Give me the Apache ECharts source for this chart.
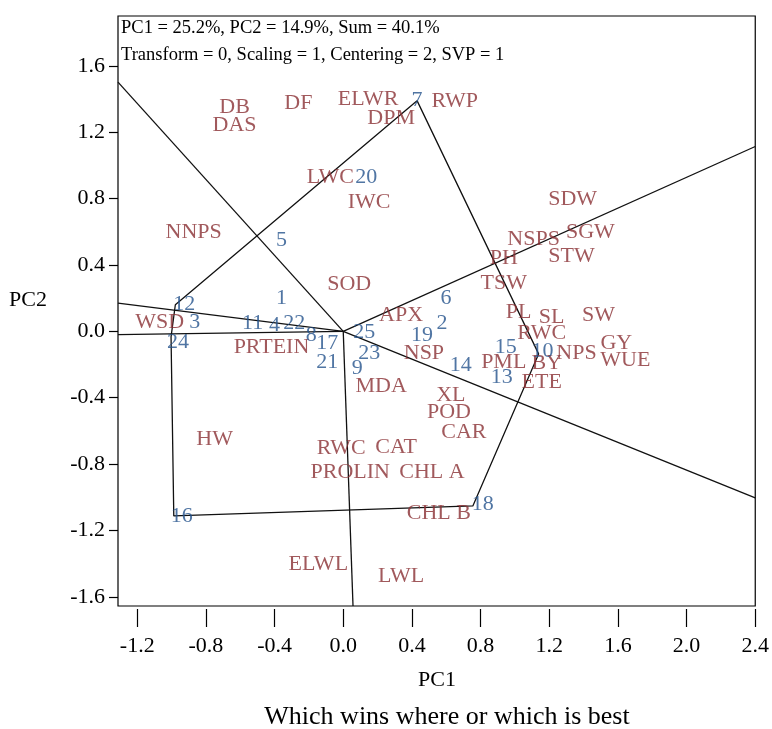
<!DOCTYPE html>
<html>
<head>
<meta charset="utf-8">
<script src="https://cdn.jsdelivr.net/npm/echarts@6/dist/echarts.min.js"></script>
<style>
html, body { margin: 0; padding: 0; background: #fff; }
#main { width: 772px; height: 729px; }
</style>
</head>
<body>
<div id="main"></div>
<script>
// genotype scores (blue numbers)
const genotypes = ['1','2','3','4','5','6','7','8','9','10','11','12','13','14','15','16','17','18','19','20','21','22','23','24','25'];
const genoPC1 = [-0.360, 0.575, -0.865, -0.401, -0.360, 0.598, 0.430, -0.186, 0.081, 1.138, -0.528, -0.978, 0.923, 0.685, 0.947, -0.987, -0.093, 0.755, 0.459, 0.134, -0.093, -0.285, 0.151, -1.003, 0.122];
const genoPC2 = [0.202, 0.051, 0.057, 0.039, 0.546, 0.202, 1.390, -0.021, -0.220, -0.136, 0.051, 0.160, -0.274, -0.202, -0.093, -1.112, -0.069, -1.052, -0.021, 0.931, -0.184, 0.051, -0.130, -0.033, -0.003];

// trait scores (red labels)
const traits = ['DB','DAS','DF','ELWR','DPM','RWP','LWC','IWC','NNPS','SOD','APX','WSD','PRTEIN','NSP','MDA','XL','POD','CAR','HW','RWC','CAT','PROLIN','CHL A','CHL B','ELWL','LWL','SDW','NSPS','SGW','STW','PH','TSW','PL','SL','SW','RWC','NPS','GY','WUE','PML','BY','ETE'];
const traitPC1 = [-0.633, -0.633, -0.261, 0.145, 0.279, 0.650, -0.075, 0.151, -0.871, 0.035, 0.337, -1.069, -0.418, 0.470, 0.221, 0.627, 0.616, 0.703, -0.749, -0.012, 0.308, 0.041, 0.517, 0.557, -0.145, 0.337, 1.336, 1.109, 1.440, 1.330, 0.935, 0.935, 1.022, 1.214, 1.487, 1.156, 1.359, 1.591, 1.643, 0.935, 1.185, 1.156];
const traitPC2 = [1.353, 1.239, 1.377, 1.401, 1.287, 1.389, 0.931, 0.780, 0.600, 0.286, 0.099, 0.057, -0.093, -0.130, -0.328, -0.383, -0.485, -0.606, -0.648, -0.707, -0.696, -0.847, -0.847, -1.094, -1.401, -1.474, 0.799, 0.552, 0.600, 0.455, 0.443, 0.292, 0.118, 0.087, 0.099, -0.009, -0.130, -0.069, -0.172, -0.184, -0.190, -0.304];

// polygon vertices (genotypes), in drawing order
const hull = ['7','10','18','16','24','12'];

const xTicks = [-1.2, -0.8, -0.4, 0, 0.4, 0.8, 1.2, 1.6, 2.0, 2.4];
const yTicks = [-1.6, -1.2, -0.8, -0.4, 0, 0.4, 0.8, 1.2, 1.6];

const xMin = -1.312, xMax = 2.4, yMin = -1.655, yMax = 1.9;
const serif = 'Liberation Serif';

// vertex labels sit a little off their points in the original
const labelShift = { '10': [4, -3], '12': [9, -1], '16': [8, 0], '18': [10, -2], '24': [7, 5] };

let hullPts = hull.map(function (g) {
	let i = genotypes.indexOf(g);
	return [genoPC1[i], genoPC2[i]];
});
hullPts.push(hullPts[0]);

// rays from the origin, perpendicular to each polygon side, out to the frame
function ray(a, b) {
	let dx = b[0] - a[0], dy = b[1] - a[1];
	let n = [dy, -dx];
	if (n[0] * a[0] + n[1] * a[1] < 0) n = [-dy, dx];
	let t = Infinity;
	if (n[0] > 0) t = Math.min(t, xMax / n[0]);
	if (n[0] < 0) t = Math.min(t, xMin / n[0]);
	if (n[1] > 0) t = Math.min(t, yMax / n[1]);
	if (n[1] < 0) t = Math.min(t, yMin / n[1]);
	return { coords: [[0, 0], [n[0] * t, n[1] * t]] };
}
let rays = [];
for (let i = 0; i < hull.length; i++) rays.push(ray(hullPts[i], hullPts[i + 1]));

let myChart = echarts.init(document.getElementById('main'));
let option = {
	backgroundColor: '#fff',
	animation: false,
	grid: {
		left: 118,
		right: 15,
		top: 16,
		bottom: 123,
		show: true,
		borderColor: '#000',
		borderWidth: 1.2
	},
	xAxis: {
		type: 'value',
		min: xMin,
		max: xMax,
		offset: 3,
		axisLine: { show: false, onZero: false },
		axisTick: { show: true, customValues: xTicks, length: 18, lineStyle: { color: '#000', width: 1.2 } },
		axisLabel: {
			customValues: xTicks,
			formatter: function (v) { return v.toFixed(1); },
			margin: 26,
			color: '#000',
			fontFamily: serif,
			fontSize: 22
		},
		splitLine: { show: false }
	},
	yAxis: {
		type: 'value',
		min: yMin,
		max: yMax,
		axisLine: { show: false, onZero: false },
		axisTick: { show: true, customValues: yTicks, length: 9, lineStyle: { color: '#000', width: 1.2 } },
		axisLabel: {
			customValues: yTicks,
			formatter: function (v) { return v.toFixed(1); },
			margin: 13,
			color: '#000',
			fontFamily: serif,
			fontSize: 22
		},
		splitLine: { show: false }
	},
	graphic: [
		{ type: 'text', left: 121, top: 19, style: { text: 'PC1 = 25.2%, PC2 = 14.9%, Sum = 40.1%', font: '18.5px "Liberation Serif"', fill: '#000' } },
		{ type: 'text', left: 121, top: 46, style: { text: 'Transform = 0, Scaling = 1, Centering = 2, SVP = 1', font: '18.5px "Liberation Serif"', fill: '#000' } },
		{ type: 'text', x: 28, y: 300, style: { text: 'PC2', font: '22px "Liberation Serif"', fill: '#000', align: 'center', verticalAlign: 'middle' } },
		{ type: 'text', x: 437, y: 680, style: { text: 'PC1', font: '22px "Liberation Serif"', fill: '#000', align: 'center', verticalAlign: 'middle' } },
		{ type: 'text', x: 447, y: 717, style: { text: 'Which wins where or which is best', font: '26px "Liberation Serif"', fill: '#000', align: 'center', verticalAlign: 'middle' } }
	],
	series: [{
		type: 'line',
		data: hullPts,
		symbol: 'none',
		silent: true,
		lineStyle: { color: '#111', width: 1.3 },
		z: 2
	}, {
		type: 'lines',
		coordinateSystem: 'cartesian2d',
		data: rays,
		silent: true,
		lineStyle: { color: '#111', width: 1.3, opacity: 1 },
		z: 2
	}, {
		name: 'traits',
		type: 'scatter',
		data: traits.map(function (n, i) { return [traitPC1[i], traitPC2[i], n]; }),
		symbolSize: 1,
		itemStyle: { color: 'rgba(0,0,0,0)' },
		silent: true,
		label: {
			show: true,
			position: 'inside',
			formatter: function (p) { return p.data[2]; },
			color: '#8a2f33',
			fontFamily: serif,
			fontSize: 22
		},
		z: 3
	}, {
		name: 'genotypes',
		type: 'scatter',
		data: genotypes.map(function (n, i) {
			let item = { value: [genoPC1[i], genoPC2[i], n] };
			if (labelShift[n]) item.label = { offset: labelShift[n] };
			return item;
		}),
		symbolSize: 1,
		itemStyle: { color: 'rgba(0,0,0,0)' },
		silent: true,
		label: {
			show: true,
			position: 'inside',
			formatter: function (p) { return p.data.value[2]; },
			color: '#24528c',
			fontFamily: serif,
			fontSize: 22
		},
		z: 4
	}]
};
myChart.setOption(option);
</script>
</body>
</html>
